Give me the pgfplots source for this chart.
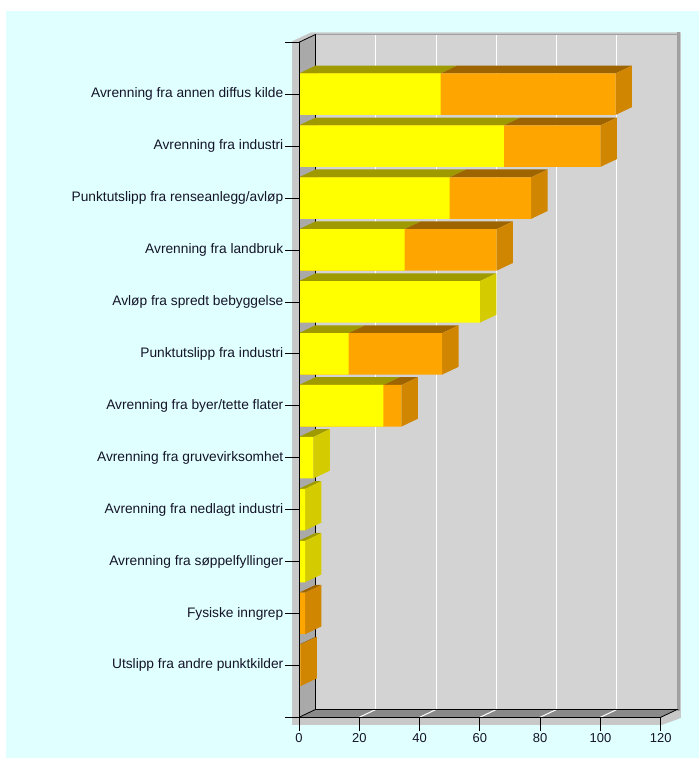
\documentclass[border=0pt]{standalone}
\usepackage{fontspec}
\setmainfont{Liberation Sans}
\usepackage{pgfplots}
\pgfplotsset{compat=1.18}
\definecolor{bgc}{RGB}{224,255,255}
\definecolor{yelF}{RGB}{255,255,0}
\definecolor{yelT}{RGB}{158,154,0}
\definecolor{yelS}{RGB}{212,204,0}
\definecolor{orgF}{RGB}{255,165,0}
\definecolor{orgT}{RGB}{158,100,0}
\definecolor{orgS}{RGB}{208,134,0}
\definecolor{wallB}{RGB}{211,211,211}
\definecolor{wallL}{RGB}{169,169,169}
\definecolor{floorC}{RGB}{138,138,138}
\definecolor{shadowC}{RGB}{200,200,200}
\definecolor{edgeG}{RGB}{160,160,160}
\definecolor{txt}{RGB}{20,20,40}
\begin{document}
\begin{tikzpicture}[x=1bp,y=1bp]
\useasboundingbox (0,0) rectangle (699,758);
\fill[white] (0,0) rectangle (699,758);
\fill[bgc] (6,0) rectangle (699,747);
\begin{axis}[
  at={(299bp,40.7bp)}, anchor=south west,
  scale only axis, width=361.7bp, height=675bp,
  xmin=0, xmax=120, ymin=0, ymax=13,
  clip=false,
  axis lines*=left,
  axis line style={black, line width=0.8bp},
  xtick={0,20,...,120},
  ytick={0,...,13},
  yticklabels={{},Utslipp fra andre punktkilder,Fysiske inngrep,Avrenning fra søppelfyllinger,Avrenning fra nedlagt industri,Avrenning fra gruvevirksomhet,Avrenning fra byer/tette flater,Punktutslipp fra industri,Avløp fra spredt bebyggelse,Avrenning fra landbruk,Punktutslipp fra renseanlegg/avløp,Avrenning fra industri,Avrenning fra annen diffus kilde,{}},
  /pgf/number format/assume math mode=true,
  tick align=outside,
  major tick length=14bp,
  tick style={black, line width=0.8bp},
  xticklabel style={font=\fontsize{13}{15}\selectfont, text=txt, inner sep=2bp},
  yticklabel style={font=\fontsize{13.8}{15}\selectfont, text=txt, inner sep=1.5bp},
  axis on top,
]
% --- 3D box: shadow, walls, floor
\addplot[fill=shadowC, draw=none] coordinates {(-2.32,-0.148) (-2.32,13.02) (4.0,13.19) (126.7,13.19) (126.7,-0.013) (120.4,-0.148)};
\addplot[fill=wallB, draw=none] coordinates {(5.45,0.15) (125.45,0.15) (125.45,13.15) (5.45,13.15)};
\addplot[white, line width=1bp] coordinates {(25.45,0.15) (25.45,13.15)};
\addplot[white, line width=1bp] coordinates {(45.45,0.15) (45.45,13.15)};
\addplot[white, line width=1bp] coordinates {(65.45,0.15) (65.45,13.15)};
\addplot[white, line width=1bp] coordinates {(85.45,0.15) (85.45,13.15)};
\addplot[white, line width=1bp] coordinates {(105.45,0.15) (105.45,13.15)};
\addplot[edgeG, line width=1.5bp] coordinates {(5.45,13.15) (125.45,13.15)};
\addplot[edgeG, line width=2.5bp] coordinates {(125.9,0.13) (125.9,13.19)};
\addplot[fill=wallL, draw=none] coordinates {(0,0) (5.45,0.15) (5.45,13.15) (0,13)};
\addplot[fill=floorC, draw=none] coordinates {(0,0) (120,0) (125.45,0.15) (5.45,0.15)};
\addplot[white, line width=1bp] coordinates {(20,0) (25.45,0.15)};
\addplot[white, line width=1bp] coordinates {(40,0) (45.45,0.15)};
\addplot[white, line width=1bp] coordinates {(60,0) (65.45,0.15)};
\addplot[white, line width=1bp] coordinates {(80,0) (85.45,0.15)};
\addplot[white, line width=1bp] coordinates {(100,0) (105.45,0.15)};
\addplot[black, line width=0.8bp] coordinates {(0,13) (5.45,13.15) (5.45,0.15) (125.45,0.15) (120,0)};
\addplot[black, line width=0.8bp] coordinates {(0,0) (5.45,0.15)};
% --- top faces
\addplot[fill=yelT, draw=none] coordinates {(0,12.4) (47,12.4) (52.45,12.55) (5.45,12.55)};
\addplot[fill=orgT, draw=none] coordinates {(47,12.4) (105,12.4) (110.45,12.55) (52.45,12.55)};
\addplot[fill=yelT, draw=none] coordinates {(0,11.4) (68,11.4) (73.45,11.55) (5.45,11.55)};
\addplot[fill=orgT, draw=none] coordinates {(68,11.4) (100,11.4) (105.45,11.55) (73.45,11.55)};
\addplot[fill=yelT, draw=none] coordinates {(0,10.4) (50,10.4) (55.45,10.55) (5.45,10.55)};
\addplot[fill=orgT, draw=none] coordinates {(50,10.4) (77,10.4) (82.45,10.55) (55.45,10.55)};
\addplot[fill=yelT, draw=none] coordinates {(0,9.4) (35,9.4) (40.45,9.55) (5.45,9.55)};
\addplot[fill=orgT, draw=none] coordinates {(35,9.4) (65.5,9.4) (70.95,9.55) (40.45,9.55)};
\addplot[fill=yelT, draw=none] coordinates {(0,8.4) (60,8.4) (65.45,8.55) (5.45,8.55)};
\addplot[fill=yelT, draw=none] coordinates {(0,7.4) (16.5,7.4) (21.95,7.55) (5.45,7.55)};
\addplot[fill=orgT, draw=none] coordinates {(16.5,7.4) (47.5,7.4) (52.95,7.55) (21.95,7.55)};
\addplot[fill=yelT, draw=none] coordinates {(0,6.4) (28,6.4) (33.45,6.55) (5.45,6.55)};
\addplot[fill=orgT, draw=none] coordinates {(28,6.4) (34,6.4) (39.45,6.55) (33.45,6.55)};
\addplot[fill=yelT, draw=none] coordinates {(0,5.4) (4.8,5.4) (10.25,5.55) (5.45,5.55)};
\addplot[fill=yelT, draw=none] coordinates {(0,4.4) (2,4.4) (7.45,4.55) (5.45,4.55)};
\addplot[fill=yelT, draw=none] coordinates {(0,3.4) (2,3.4) (7.45,3.55) (5.45,3.55)};
\addplot[fill=orgT, draw=none] coordinates {(0,2.4) (2,2.4) (7.45,2.55) (5.45,2.55)};
\addplot[fill=orgT, draw=none] coordinates {(0,1.4) (0.5,1.4) (5.95,1.55) (5.45,1.55)};
% --- side faces
\addplot[fill=orgS, draw=none] coordinates {(105,11.6) (110.45,11.75) (110.45,12.55) (105,12.4)};
\addplot[fill=orgS, draw=none] coordinates {(100,10.6) (105.45,10.75) (105.45,11.55) (100,11.4)};
\addplot[fill=orgS, draw=none] coordinates {(77,9.6) (82.45,9.75) (82.45,10.55) (77,10.4)};
\addplot[fill=orgS, draw=none] coordinates {(65.5,8.6) (70.95,8.75) (70.95,9.55) (65.5,9.4)};
\addplot[fill=yelS, draw=none] coordinates {(60,7.6) (65.45,7.75) (65.45,8.55) (60,8.4)};
\addplot[fill=orgS, draw=none] coordinates {(47.5,6.6) (52.95,6.75) (52.95,7.55) (47.5,7.4)};
\addplot[fill=orgS, draw=none] coordinates {(34,5.6) (39.45,5.75) (39.45,6.55) (34,6.4)};
\addplot[fill=yelS, draw=none] coordinates {(4.8,4.6) (10.25,4.75) (10.25,5.55) (4.8,5.4)};
\addplot[fill=yelS, draw=none] coordinates {(2,3.6) (7.45,3.75) (7.45,4.55) (2,4.4)};
\addplot[fill=yelS, draw=none] coordinates {(2,2.6) (7.45,2.75) (7.45,3.55) (2,3.4)};
\addplot[fill=orgS, draw=none] coordinates {(2,1.6) (7.45,1.75) (7.45,2.55) (2,2.4)};
\addplot[fill=orgS, draw=none] coordinates {(0.5,0.6) (5.95,0.75) (5.95,1.55) (0.5,1.4)};
% --- front faces: totals (orange) then yellow part
\addplot[xbar, bar width=0.8, fill=orgF, draw=none] coordinates {(105,12) (100,11) (77,10) (65.5,9) (0,8) (47.5,7) (34,6) (0,5) (0,4) (0,3) (2,2) (0.5,1)};
\addplot[xbar, bar width=0.8, fill=yelF, draw=none] coordinates {(47,12) (68,11) (50,10) (35,9) (60,8) (16.5,7) (28,6) (4.8,5) (2,4) (2,3) (0,2) (0,1)};
\end{axis}
\end{tikzpicture}
\end{document}
